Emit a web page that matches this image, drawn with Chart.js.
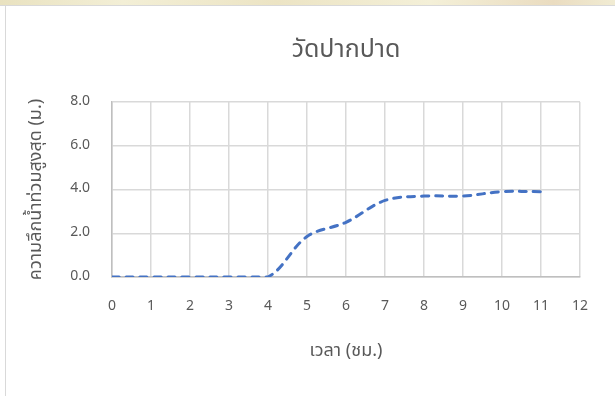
<!DOCTYPE html>
<html>
<head>
<meta charset="utf-8">
<script src="https://cdn.jsdelivr.net/npm/chart.js@4"></script>
<style>
  html, body { margin: 0; padding: 0; background: #fff; }
  #wrap { position: relative; width: 615px; height: 396px; overflow: hidden; }
  #strip { position: absolute; left: 0; top: 0; width: 615px; height: 5px;
    background: linear-gradient(90deg, #e9e2c0, #f3efd6 20%, #ece4c4 45%, #f4f0d8 70%, #eadcc0 90%, #f1ecd3);
    border-bottom: 1px solid #d9d9d9; }
  #edge { position: absolute; left: 5px; top: 6px; width: 1px; height: 390px; background: #d9d9d9; }
  #floodChart { position: absolute; left: 0; top: 0; }
</style>
</head>
<body>
<div id="wrap">
  <div id="strip"></div>
  <div id="edge"></div>
  <canvas id="floodChart" width="615" height="396"></canvas>
</div>
<script>
// ชั่วโมง กับ ความลึกน้ำท่วมสูงสุด
const hours = [0, 1, 2, 3, 4, 5, 6, 7, 8, 9, 10, 11];
const depth = [0, 0, 0, 0, 0, 1.85, 2.5, 3.5, 3.7, 3.7, 3.9, 3.9];

const chartTitle = "วัดปากปาด";
const xTitle = "เวลา (ชม.)";
const yTitle = "ความลึกน้ำท่วมสูงสุด (ม.)";

const thaiFont = "'Leelawadee UI', Tahoma, 'Noto Sans Thai', 'Noto Sans', 'DejaVu Sans', sans-serif";
const textColor = "#595959";

const points = hours.map((h, i) => ({ x: h, y: depth[i] }));

// titles drawn by hand so they sit centred on the plot like Excel does
const titlesPlugin = {
  id: "titles",
  afterDraw(chart) {
    const { ctx, chartArea } = chart;
    const cx = (chartArea.left + chartArea.right) / 2;
    const cy = (chartArea.top + chartArea.bottom) / 2;
    ctx.save();
    ctx.fillStyle = textColor;
    ctx.textAlign = "center";
    ctx.textBaseline = "middle";
    ctx.font = "25px " + thaiFont;
    ctx.fillText(chartTitle, cx, 52);
    ctx.font = "18px " + thaiFont;
    ctx.fillText(xTitle, cx, 352);
    ctx.translate(37, cy);
    ctx.rotate(-Math.PI / 2);
    ctx.fillText(yTitle, 0, 0);
    ctx.restore();
  },
};

const ctx = document.getElementById("floodChart").getContext("2d");
new Chart(ctx, {
  type: "line",
  data: {
    datasets: [
      {
        data: points,
        borderColor: "#4472C4",
        borderWidth: 3,
        borderDash: [7, 7],
        borderCapStyle: "round",
        pointRadius: 0,
        tension: 0.35,
        fill: false,
      },
    ],
  },
  plugins: [titlesPlugin],
  options: {
    responsive: false,
    animation: false,
    layout: { padding: { left: 6, right: 35, top: 102, bottom: 0 } },
    plugins: {
      legend: { display: false },
      tooltip: { enabled: false },
      title: { display: false },
    },
    scales: {
      x: {
        type: "linear",
        min: 0,
        max: 12,
        ticks: {
          stepSize: 1,
          color: textColor,
          padding: 22,
          font: { family: thaiFont, size: 14 },
        },
        grid: { color: "#d9d9d9", lineWidth: 1.5, drawTicks: false },
        border: { color: "#bfbfbf", width: 1.5 },
        afterFit: (scale) => { scale.height = 119; },
      },
      y: {
        min: 0,
        max: 8,
        ticks: {
          stepSize: 2,
          color: textColor,
          padding: 22,
          font: { family: thaiFont, size: 14 },
          callback: (v) => v.toFixed(1),
        },
        grid: { color: "#d9d9d9", lineWidth: 1.5, drawTicks: false },
        border: { color: "#bfbfbf", width: 1.5 },
        afterFit: (scale) => { scale.width = 106; },
      },
    },
  },
});
</script>
</body>
</html>
